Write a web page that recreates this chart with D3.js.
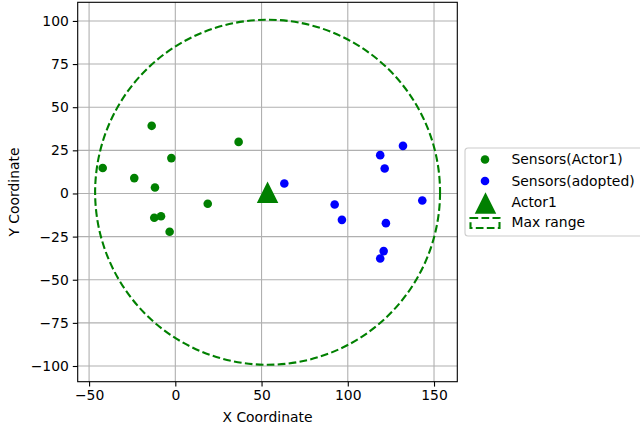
<!DOCTYPE html>
<html>
<head>
<meta charset="utf-8">
<script src="https://cdn.jsdelivr.net/npm/d3@7"></script>
<style>
  body { margin: 0; background: #fff; }
  svg { display: block; font-family: "DejaVu Sans", sans-serif; }
</style>
</head>
<body>
<svg id="chart" width="640" height="427"></svg>
<script>
// sensors owned by Actor1 (x, y)
const actorSensorsX = [-42.1, -13.7, -2.3, -23.8, -11.8, 18.8, 36.7, -12.2, -8.3, -3.3];
const actorSensorsY = [14.8, 39.2, 20.5, 8.9, 3.5, -6.0, 29.9, -14.1, -13.2, -22.2];
// adopted sensors
const adoptedX = [63.2, 118.8, 132.0, 121.4, 143.2, 92.4, 96.6, 122.1, 120.8, 118.8];
const adoptedY = [5.8, 22.2, 27.6, 14.5, -4.1, -6.4, -15.3, -17.2, -33.4, -37.7];
const actorPos = [53.5, 0.7];
const maxRange = 100;
const xTicks = [-50, 0, 50, 100, 150];
const yTicks = [-100, -75, -50, -25, 0, 25, 50, 75, 100];
const legendLabels = ["Sensors(Actor1)", "Sensors(adopted)", "Actor1", "Max range"];

const svg = d3.select("#chart");
const plot = { left: 77.7, right: 457.3, top: 2.3, bottom: 381.7 };

const x = d3.scaleLinear().domain([-56.6, 163.5]).range([plot.left, plot.right]);
const y = d3.scaleLinear().domain([-109.1, 110.8]).range([plot.bottom, plot.top]);

// grid
const grid = svg.append("g");
grid.selectAll(".gx").data(xTicks).join("line")
  .attr("x1", d => x(d)).attr("x2", d => x(d))
  .attr("y1", plot.top).attr("y2", plot.bottom)
  .attr("stroke", "#b0b0b0").attr("stroke-width", 1.1);
grid.selectAll(".gy").data(yTicks).join("line")
  .attr("y1", d => y(d)).attr("y2", d => y(d))
  .attr("x1", plot.left).attr("x2", plot.right)
  .attr("stroke", "#b0b0b0").attr("stroke-width", 1.1);

// max range circle
svg.append("ellipse")
  .attr("cx", x(actorPos[0])).attr("cy", y(actorPos[1]))
  .attr("rx", x(actorPos[0] + maxRange) - x(actorPos[0]))
  .attr("ry", y(actorPos[1]) - y(actorPos[1] + maxRange))
  .attr("fill", "none").attr("stroke", "green")
  .attr("stroke-width", 2.1).attr("stroke-dasharray", "7.7,3.3");

const green = d3.range(actorSensorsX.length).map(i => [actorSensorsX[i], actorSensorsY[i]]);
const blue = d3.range(adoptedX.length).map(i => [adoptedX[i], adoptedY[i]]);

svg.append("g").selectAll("circle").data(green).join("circle")
  .attr("cx", d => x(d[0])).attr("cy", d => y(d[1])).attr("r", 4.3).attr("fill", "green");
svg.append("g").selectAll("circle").data(blue).join("circle")
  .attr("cx", d => x(d[0])).attr("cy", d => y(d[1])).attr("r", 4.3).attr("fill", "blue");

// matplotlib-style '^' marker: as wide as it is tall
function triPath(h) {
  const p = d3.path();
  p.moveTo(0, -h / 2);
  p.lineTo(h / 2, h / 2);
  p.lineTo(-h / 2, h / 2);
  p.closePath();
  return p.toString();
}
svg.append("path")
  .attr("d", triPath(21.5))
  .attr("transform", `translate(${x(actorPos[0])},${y(actorPos[1])})`)
  .attr("fill", "green");

// axes
const xAxis = d3.axisBottom(x).tickValues(xTicks).tickSize(4.9).tickPadding(4);
const yAxis = d3.axisLeft(y).tickValues(yTicks).tickSize(4.9).tickPadding(4);
const gx = svg.append("g").attr("transform", `translate(0,${plot.bottom})`).call(xAxis);
const gy = svg.append("g").attr("transform", `translate(${plot.left},0)`).call(yAxis);
[gx, gy].forEach(g => {
  g.select(".domain").remove();
  g.selectAll("text").attr("font-size", 13.9).attr("fill", "#000").attr("font-family", "DejaVu Sans");
  g.selectAll("line").attr("stroke", "#000").attr("stroke-width", 1.1);
});

svg.append("rect")
  .attr("x", plot.left).attr("y", plot.top)
  .attr("width", plot.right - plot.left).attr("height", plot.bottom - plot.top)
  .attr("fill", "none").attr("stroke", "#000").attr("stroke-width", 1.1);

svg.append("text").attr("x", (plot.left + plot.right) / 2).attr("y", 422)
  .attr("text-anchor", "middle").attr("font-size", 13.9).text("X Coordinate");
svg.append("text")
  .attr("transform", `translate(19,${(plot.top + plot.bottom) / 2}) rotate(-90)`)
  .attr("text-anchor", "middle").attr("font-size", 13.9).text("Y Coordinate");

// legend
const lg = svg.append("g").attr("transform", "translate(465,148)");
lg.append("rect").attr("width", 190).attr("height", 88).attr("rx", 3)
  .attr("fill", "#fff").attr("fill-opacity", 0.8).attr("stroke", "#cccccc").attr("stroke-width", 1.1);
const rowY = [11.5, 33, 54, 74.5];
legendLabels.forEach((t, i) => {
  lg.append("text").attr("x", 46.5).attr("y", rowY[i]).attr("dy", "0.35em")
    .attr("font-size", 13.9).text(t);
});
lg.append("circle").attr("cx", 20).attr("cy", rowY[0]).attr("r", 4.3).attr("fill", "green");
lg.append("circle").attr("cx", 20).attr("cy", rowY[1]).attr("r", 4.3).attr("fill", "blue");
lg.append("path").attr("d", triPath(21.5)).attr("transform", `translate(20.5,${rowY[2] + 1})`).attr("fill", "green");
lg.append("rect").attr("x", 5.5).attr("y", rowY[3] - 4.5).attr("width", 29).attr("height", 10)
  .attr("fill", "none").attr("stroke", "green").attr("stroke-width", 2.1).attr("stroke-dasharray", "7.7,3.3");
</script>
</body>
</html>
